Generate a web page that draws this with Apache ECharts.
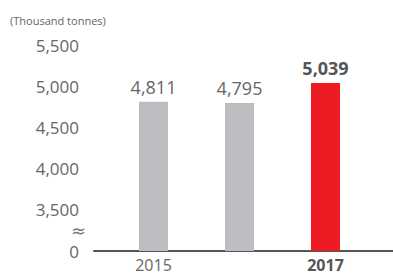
<!DOCTYPE html>
<html>
<head>
<meta charset="utf-8">
<script src="https://cdn.jsdelivr.net/npm/echarts@6/dist/echarts.min.js"></script>
<style>
  html, body { margin: 0; padding: 0; background: #fff; }
  #chart { width: 393px; height: 275px; }
</style>
</head>
<body>
<div id="chart"></div>
<script>
// Data
const years = ['2015', '2016', '2017'];
const volumes = [4811, 4795, 5039];
const barColors = ['#bcbdc0', '#bcbdc0', '#ed1c24'];
const highlightYear = '2017';

// Axis is broken: bottom label "0" sits where 3,000 would be
const axisMin = 3000;
const axisMax = 5500;
const tickLabels = { 3000: '0', 3250: '{brk|≈}', 3500: '3,500', 4000: '4,000', 4500: '4,500', 5000: '5,000', 5500: '5,500' };

const font = '"Open Sans", "Noto Sans", sans-serif';

function fmt(v) {
  return v.toLocaleString('en-US');
}

const chart = echarts.init(document.getElementById('chart'), null, { renderer: 'svg' });

const barData = volumes.map((v, i) => {
  const isHi = years[i] === highlightYear;
  return {
    value: v,
    itemStyle: { color: barColors[i] },
    label: {
      fontWeight: isHi ? 'bold' : 'normal',
      color: isHi ? '#555' : '#666'
    }
  };
});

chart.setOption({
  animation: false,
  title: {
    text: '(Thousand tonnes)',
    left: 5,
    top: 10,
    textStyle: { fontFamily: font, fontSize: 11, fontWeight: 'normal', color: '#666' }
  },
  grid: [
    { left: 110.5, right: 24.5, top: 45, bottom: 24 },
    { left: 94, right: 0, top: 45, bottom: 24 }
  ],
  xAxis: [
    {
      gridIndex: 0,
      type: 'category',
      data: years,
      axisLine: { show: false },
      axisTick: { show: false },
      axisLabel: {
        margin: 7,
        fontFamily: font,
        fontSize: 16,
        lineHeight: 14,
        color: '#666',
        formatter: v => v === highlightYear ? '{hi|' + v + '}' : v,
        rich: { hi: { fontFamily: font, fontSize: 16, lineHeight: 14, fontWeight: 'bold', color: '#555' } }
      }
    },
    {
      gridIndex: 1,
      type: 'category',
      data: [''],
      axisLine: { lineStyle: { color: '#555', width: 2 } },
      axisTick: { show: false },
      axisLabel: { show: false }
    }
  ],
  yAxis: [
    {
      gridIndex: 0,
      type: 'value',
      min: axisMin,
      max: axisMax,
      interval: 250,
      show: false
    },
    {
      gridIndex: 1,
      type: 'value',
      min: axisMin,
      max: axisMax,
      interval: 250,
      axisLine: { show: false },
      axisTick: { show: false },
      splitLine: { show: false },
      axisLabel: {
        margin: 15,
        fontFamily: font,
        fontSize: 17,
        lineHeight: 14,
        color: '#666',
        formatter: v => tickLabels[v] || '',
        rich: { brk: { fontFamily: '"DejaVu Sans", sans-serif', fontSize: 18, lineHeight: 10, color: '#777', padding: [0, -7, 0, 0] } }
      }
    }
  ],
  series: [{
    type: 'bar',
    xAxisIndex: 0,
    yAxisIndex: 0,
    barWidth: 29,
    data: barData,
    label: {
      show: true,
      position: 'top',
      distance: 6,
      fontFamily: font,
      fontSize: 18,
      formatter: p => fmt(p.value)
    }
  }]
});
</script>
</body>
</html>
